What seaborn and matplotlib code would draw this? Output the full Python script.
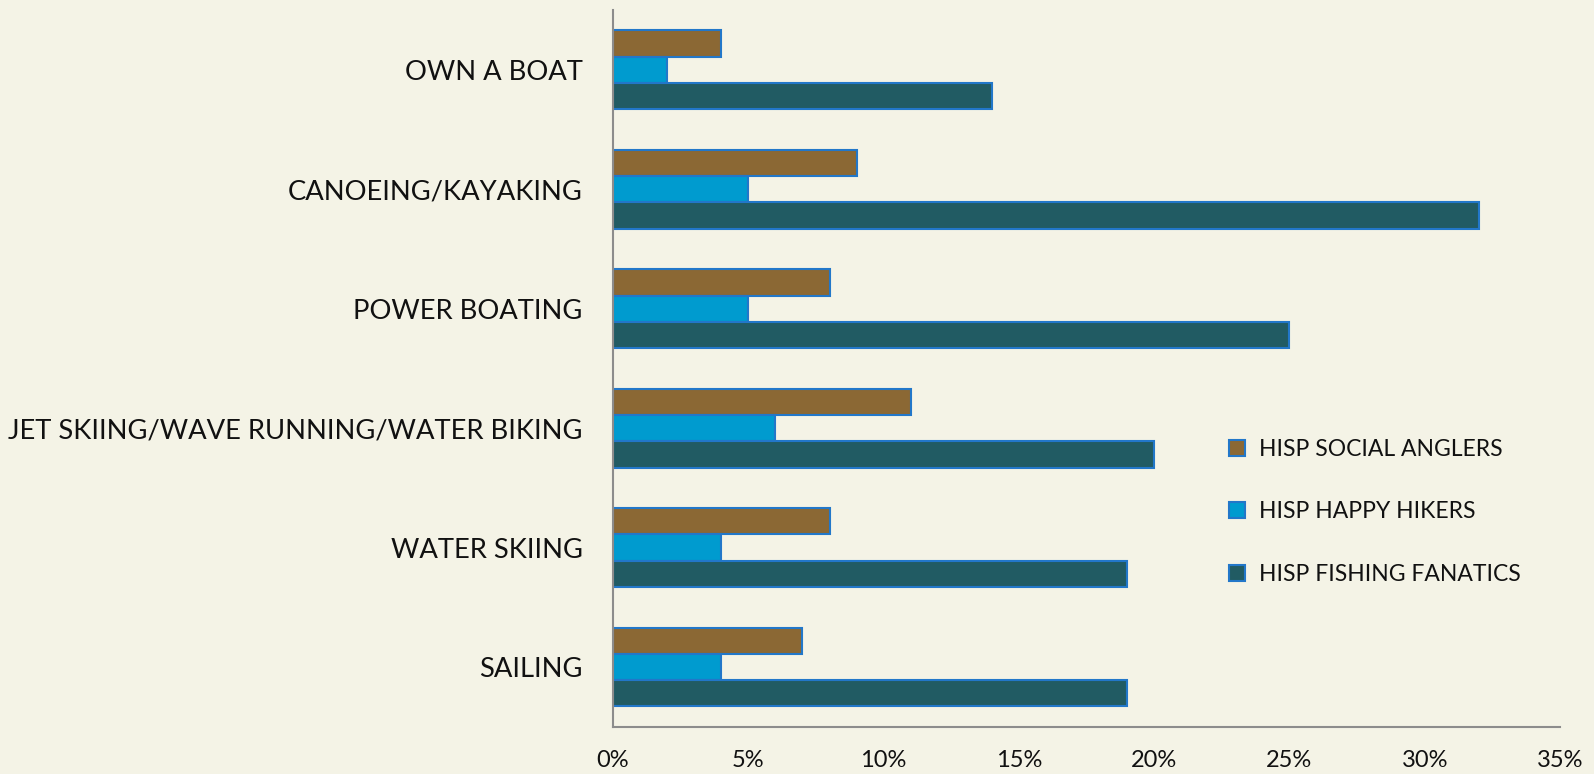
"""
horizontal grouped bar chart: water activities by HISP segment
"""

import matplotlib
matplotlib.use("Agg")
import matplotlib.pyplot as plt
import matplotlib.ticker as mticker
from matplotlib.patches import Patch
import seaborn as sns
import pandas as pd
import numpy as np

activities = ["OWN A BOAT", "CANOEING/KAYAKING", "POWER BOATING",
              "JET SKIING/WAVE RUNNING/WATER BIKING", "WATER SKIING", "SAILING"]
segments = ["HISP SOCIAL ANGLERS", "HISP HAPPY HIKERS", "HISP FISHING FANATICS"]
social_anglers = [4, 9, 8, 11, 8, 7]
happy_hikers = [2, 5, 5, 6, 4, 4]
fishing_fanatics = [14, 32, 25, 20, 19, 19]
x_ticks = [0, 5, 10, 15, 20, 25, 30, 35]

colors = ["#8B6834", "#009BCF", "#215B63"]
edge = "#2277C9"
bg = "#F4F3E6"

rows = []
for seg, vals in zip(segments, [social_anglers, happy_hikers, fishing_fanatics]):
    for act, v in zip(activities, vals):
        rows.append({"activity": act, "segment": seg, "pct": v})
df = pd.DataFrame(rows)

sns.set_theme(style="white")
plt.rcParams["font.family"] = ["Lato", "DejaVu Sans"]

fig = plt.figure(figsize=(15.94, 7.74), dpi=100, facecolor=bg)
ax = fig.add_axes([0.3846, 0.061, 0.5941, 0.926])
ax.set_facecolor("none")

sns.barplot(data=df, y="activity", x="pct", hue="segment", order=activities,
            hue_order=segments, palette=colors, saturation=1, orient="h", width=0.66,
            edgecolor=edge, linewidth=1.5, ax=ax, legend=False)

ax.set_xlim(0, 35)
ax.set_ylim(len(activities) - 0.5, -0.5)
ax.set_xticks(x_ticks)
ax.xaxis.set_major_formatter(mticker.FuncFormatter(lambda v, p: f"{v:.0f}%"))
ax.set_xlabel("")
ax.set_ylabel("")

# ticks on group boundaries, labels in the middle
ax.set_yticks(np.arange(-0.5, len(activities), 1.0))
ax.set_yticklabels([])
ax.set_yticks(np.arange(len(activities)), minor=True)
ax.set_yticklabels(activities, minor=True)
ax.tick_params(axis="y", which="major", length=9, width=1.2, color="#8C8C8C", direction="out")
ax.tick_params(axis="y", which="minor", length=0, pad=22, labelsize=19.7, labelcolor="#111111")
ax.tick_params(axis="x", length=9, width=1.2, color="#8C8C8C", direction="out",
               labelsize=17, labelcolor="#111111", pad=8)

for s in ["top", "right"]:
    ax.spines[s].set_visible(False)
for s in ["left", "bottom"]:
    ax.spines[s].set_color("#8C8C8C")
    ax.spines[s].set_linewidth(1.5)

handles = [Patch(facecolor=c, edgecolor=edge, linewidth=1.5) for c in colors]
leg = ax.legend(handles, segments, loc="upper left", bbox_to_anchor=(0.629, 0.43),
                frameon=False, handlelength=0.7, handleheight=0.7, handletextpad=0.6,
                labelspacing=1.8, fontsize=16.5)
for t in leg.get_texts():
    t.set_color("#111111")

fig.savefig("out.png", dpi=100, facecolor=bg)
